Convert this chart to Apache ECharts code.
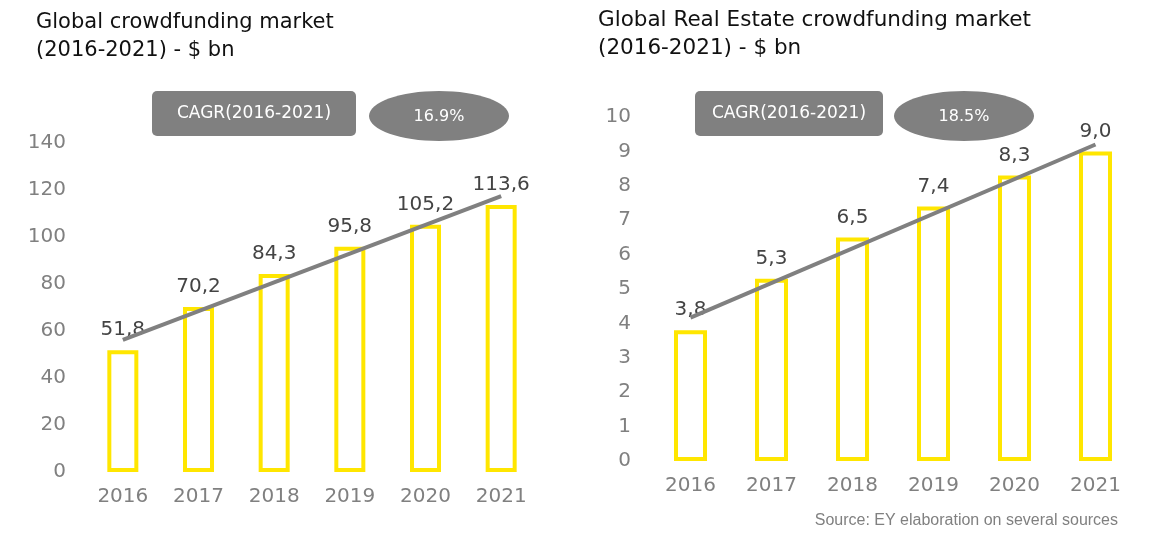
<!DOCTYPE html>
<html>
<head>
<meta charset="utf-8">
<style>
  html, body { margin: 0; padding: 0; background: #fff; }
  #main { width: 1159px; height: 536px; }
</style>
<script src="https://cdn.jsdelivr.net/npm/echarts@6/dist/echarts.min.js"></script>
</head>
<body>
<div id="main"></div>
<script>
// data
var years = ['2016', '2017', '2018', '2019', '2020', '2021'];
var globalMarket = [51.8, 70.2, 84.3, 95.8, 105.2, 113.6];
var realEstateMarket = [3.8, 5.3, 6.5, 7.4, 8.3, 9.0];
// grey trend lines: only the two end points are drawn
var globalTrend = [56.2, null, null, null, null, 117.4];
var realEstateTrend = [4.17, null, null, null, null, 9.2];
var cagrGlobal = '16.9%';
var cagrRealEstate = '18.5%';

var YELLOW = '#FFE600';
var GREY = '#808080';
var FONT = '"DejaVu Sans", sans-serif';
var FONT_SRC = '"Liberation Sans", Arial, sans-serif';

function fmt(p) { return p.value.toFixed(1).replace('.', ','); }

function barSeries(xi, data) {
  return {
    type: 'bar', xAxisIndex: xi, yAxisIndex: xi, data: data,
    barWidth: xi === 0 ? 31 : 33,
    itemStyle: { color: '#fff', borderColor: YELLOW, borderWidth: 4 },
    label: {
      show: true, position: 'top', distance: 10, formatter: fmt,
      color: '#444', fontSize: 20, fontFamily: FONT
    },
    z: 2
  };
}

function trendSeries(xi, data) {
  return {
    type: 'line', xAxisIndex: xi, yAxisIndex: xi, data: data,
    connectNulls: true, symbol: 'none', silent: true,
    lineStyle: { color: GREY, width: 4 },
    z: 3
  };
}

function cagrBadge(boxX, boxW, ellX, ellW, value) {
  return [
    {
      type: 'rect', shape: { x: boxX, y: 91, width: boxW, height: 45, r: 5 },
      style: { fill: GREY }
    },
    {
      type: 'text', x: boxX + boxW / 2, y: 114,
      style: { text: 'CAGR(2016-2021)', fill: '#fff', font: '17px ' + FONT, align: 'center', verticalAlign: 'middle' }
    },
    {
      type: 'ellipse', shape: { cx: ellX + ellW / 2, cy: 116, rx: ellW / 2, ry: 25 },
      style: { fill: GREY }
    },
    {
      type: 'text', x: ellX + ellW / 2, y: 117,
      style: { text: value, fill: '#fff', font: '16px ' + FONT, align: 'center', verticalAlign: 'middle' }
    }
  ];
}

var xAxisBase = {
  type: 'category', data: years,
  axisLine: { show: false }, axisTick: { show: false },
  axisLabel: { color: GREY, fontSize: 20, fontFamily: FONT, margin: 15 }
};
var yAxisBase = {
  type: 'value', min: 0,
  axisLine: { show: false }, axisTick: { show: false }, splitLine: { show: false },
  axisLabel: { color: GREY, fontSize: 20, fontFamily: FONT, margin: 19 }
};

var chart = echarts.init(document.getElementById('main'));
chart.setOption({
  animation: false,
  backgroundColor: '#fff',
  title: [
    {
      text: 'Global crowdfunding market\n(2016-2021) - $ bn', left: 31, top: 4,
      textStyle: { color: '#111', fontSize: 21, fontWeight: 'normal', fontFamily: FONT, lineHeight: 28 }
    },
    {
      text: 'Global Real Estate crowdfunding market\n(2016-2021) - $ bn', left: 593, top: 1,
      textStyle: { color: '#111', fontSize: 21.5, fontWeight: 'normal', fontFamily: FONT, lineHeight: 28 }
    },
    {
      text: 'Source: EY elaboration on several sources', right: 36, top: 508,
      textStyle: { color: GREY, fontSize: 16, fontWeight: 'normal', fontFamily: FONT_SRC }
    }
  ],
  grid: [
    { left: 85, right: 620, top: 143, bottom: 64 },
    { left: 650, right: 23, top: 117, bottom: 75 }
  ],
  xAxis: [
    Object.assign({ gridIndex: 0 }, xAxisBase),
    Object.assign({ gridIndex: 1 }, xAxisBase)
  ],
  yAxis: [
    Object.assign({ gridIndex: 0, max: 140, interval: 20 }, yAxisBase),
    Object.assign({ gridIndex: 1, max: 10, interval: 1 }, yAxisBase)
  ],
  series: [
    barSeries(0, globalMarket),
    trendSeries(0, globalTrend),
    barSeries(1, realEstateMarket),
    trendSeries(1, realEstateTrend)
  ],
  graphic: cagrBadge(152, 204, 369, 140, cagrGlobal)
    .concat(cagrBadge(695, 188, 894, 140, cagrRealEstate))
});
</script>
</body>
</html>
